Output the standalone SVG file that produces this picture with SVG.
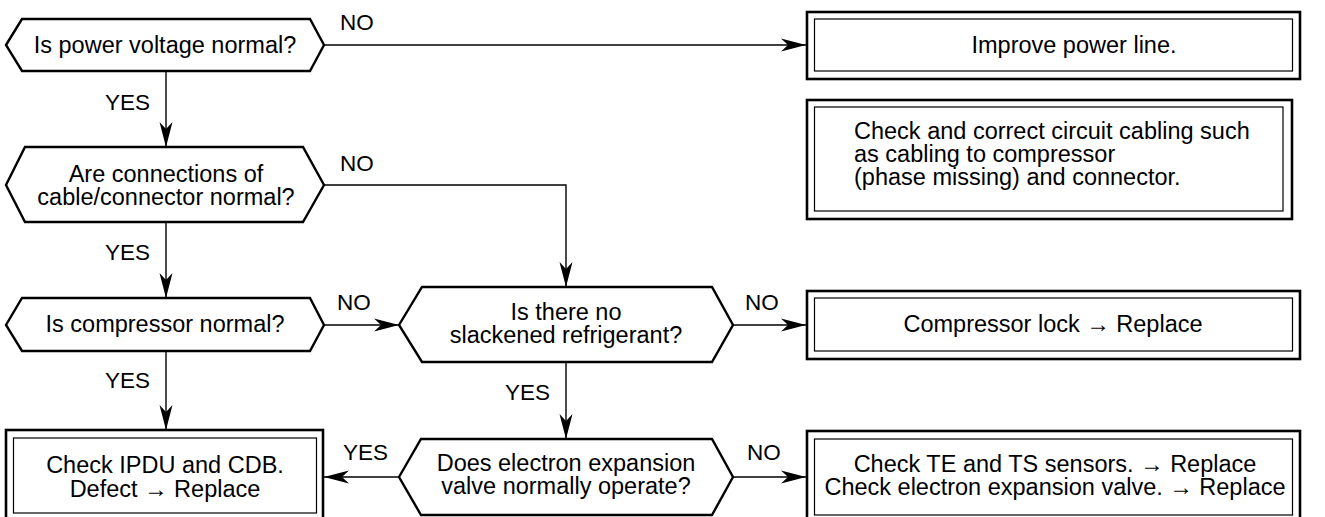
<svg xmlns="http://www.w3.org/2000/svg" width="1325" height="517" viewBox="0 0 1325 517">
<style>
text{font-family:"Liberation Sans",Arial,sans-serif;fill:#000}
.t{font-size:23.5px;text-anchor:middle}
.tl{font-size:23.5px}
.lb{font-size:22.5px}
.hex{fill:#fff;stroke:#000;stroke-width:2.4;stroke-linejoin:miter}
.bo{fill:#fff;stroke:#000;stroke-width:2.6}
.bi{fill:none;stroke:#000;stroke-width:1.2}
.c{fill:none;stroke:#000;stroke-width:1.4}
</style>
<defs>
<marker id="ah" markerUnits="userSpaceOnUse" markerWidth="26" markerHeight="14" viewBox="0 0 26 14" refX="25" refY="7" orient="auto">
<path d="M0,0.5 L25,7 L0,13.5 L7,7 Z" fill="#000"/>
</marker>
</defs>
<rect width="1325" height="517" fill="#fff"/>
<g id="connectors">
<path class="c" d="M324,45 H806" marker-end="url(#ah)"/>
<path class="c" d="M166,71 V147" marker-end="url(#ah)"/>
<path class="c" d="M324,185 H566 V287" marker-end="url(#ah)"/>
<path class="c" d="M166,222 V298" marker-end="url(#ah)"/>
<path class="c" d="M324,325 H399" marker-end="url(#ah)"/>
<path class="c" d="M733,325 H806" marker-end="url(#ah)"/>
<path class="c" d="M166,351 V430" marker-end="url(#ah)"/>
<path class="c" d="M566,362 V439" marker-end="url(#ah)"/>
<path class="c" d="M399,477 H324" marker-end="url(#ah)"/>
<path class="c" d="M733,477 H806" marker-end="url(#ah)"/>
<text class="lb" x="340" y="30">NO</text>
<text class="lb" x="150" y="110" text-anchor="end">YES</text>
<text class="lb" x="340" y="171">NO</text>
<text class="lb" x="150" y="260" text-anchor="end">YES</text>
<text class="lb" x="337" y="310">NO</text>
<text class="lb" x="150" y="388" text-anchor="end">YES</text>
<text class="lb" x="745" y="310">NO</text>
<text class="lb" x="505" y="400">YES</text>
<text class="lb" x="343" y="460">YES</text>
<text class="lb" x="747" y="460">NO</text>
</g>
<g id="q1">
<polygon class="hex" points="6,45 22,19 310,19 324,45 310,71 22,71"/>
<text class="t" x="165" y="53">Is power voltage normal?</text>
</g>
<g id="q2">
<polygon class="hex" points="6,185 25,147 303,147 324,185 303,222 25,222"/>
<text class="t" x="166" y="181.5">Are connections of</text>
<text class="t" x="166" y="205">cable/connector normal?</text>
</g>
<g id="q3">
<polygon class="hex" points="6,325 22,298 310,298 324,325 310,351 22,351"/>
<text class="t" x="165" y="332">Is compressor normal?</text>
</g>
<g id="q4">
<polygon class="hex" points="399,325 422,287 712,287 733,325 712,362 422,362"/>
<text class="t" x="566" y="320">Is there no</text>
<text class="t" x="566" y="343">slackened refrigerant?</text>
</g>
<g id="q5">
<polygon class="hex" points="399,477 421,439 712,439 733,477 712,515 421,515"/>
<text class="t" x="566" y="471">Does electron expansion</text>
<text class="t" x="566" y="493.5">valve normally operate?</text>
</g>
<g id="b1">
<rect class="bo" x="807" y="12" width="493" height="67"/>
<rect class="bi" x="814.5" y="19" width="478" height="52"/>
<text class="t" x="1074" y="53">Improve power line.</text>
</g>
<g id="b2">
<rect class="bo" x="807" y="100" width="485" height="119"/>
<rect class="bi" x="814.5" y="107" width="468.5" height="104"/>
<text class="tl" x="854" y="139">Check and correct circuit cabling such</text>
<text class="tl" x="854" y="162">as cabling to compressor</text>
<text class="tl" x="854" y="185">(phase missing) and connector.</text>
</g>
<g id="b3">
<rect class="bo" x="807" y="291" width="493" height="68"/>
<rect class="bi" x="814.5" y="298" width="478" height="53"/>
<text class="t" x="1053" y="332">Compressor lock → Replace</text>
</g>
<g id="b4">
<rect class="bo" x="6" y="430" width="317" height="92"/>
<rect class="bi" x="13.5" y="438" width="303" height="75"/>
<text class="t" x="165" y="473">Check IPDU and CDB.</text>
<text class="t" x="165" y="497">Defect → Replace</text>
</g>
<g id="b5">
<rect class="bo" x="807" y="431" width="493" height="92"/>
<rect class="bi" x="814.5" y="439" width="478" height="76"/>
<text class="t" x="1055" y="472">Check TE and TS sensors. → Replace</text>
<text class="t" x="1055" y="495">Check electron expansion valve. → Replace</text>
</g>
</svg>
